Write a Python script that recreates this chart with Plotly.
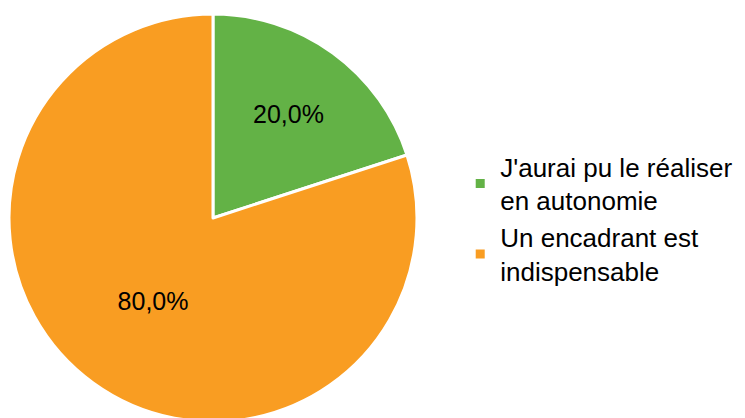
import plotly.graph_objects as go

labels = ["J'aurai pu le réaliser<br>en autonomie", "Un encadrant est<br>indispensable"]
values = [20.0, 80.0]
text_labels = ["20,0%", "80,0%"]
colors = ["#63B246", "#F99D22"]

fig = go.Figure(
    go.Pie(
        labels=labels,
        values=values,
        text=text_labels,
        textinfo="text",
        textposition="inside",
        insidetextorientation="horizontal",
        textfont={"family": "Liberation Sans, Arial", "size": 25, "color": "#000000"},
        marker={"colors": colors, "line": {"color": "#FFFFFF", "width": 3}},
        sort=False,
        direction="clockwise",
        rotation=0,
        domain={"x": [0.0013, 0.549], "y": [0.0096, 0.9856]},
        hoverinfo="skip",
    )
)

fig.update_layout(
    width=745,
    height=418,
    margin={"l": 0, "r": 0, "t": 0, "b": 0},
    paper_bgcolor="#FFFFFF",
    plot_bgcolor="#FFFFFF",
    font={"family": "Liberation Sans, Arial", "size": 25, "color": "#000000"},
    legend={
        "x": 0.607,
        "y": 0.495,
        "xanchor": "left",
        "yanchor": "middle",
        "tracegroupgap": 14,
        "itemwidth": 30,
        "font": {"size": 26},
    },
)

fig.write_html("out.html")
